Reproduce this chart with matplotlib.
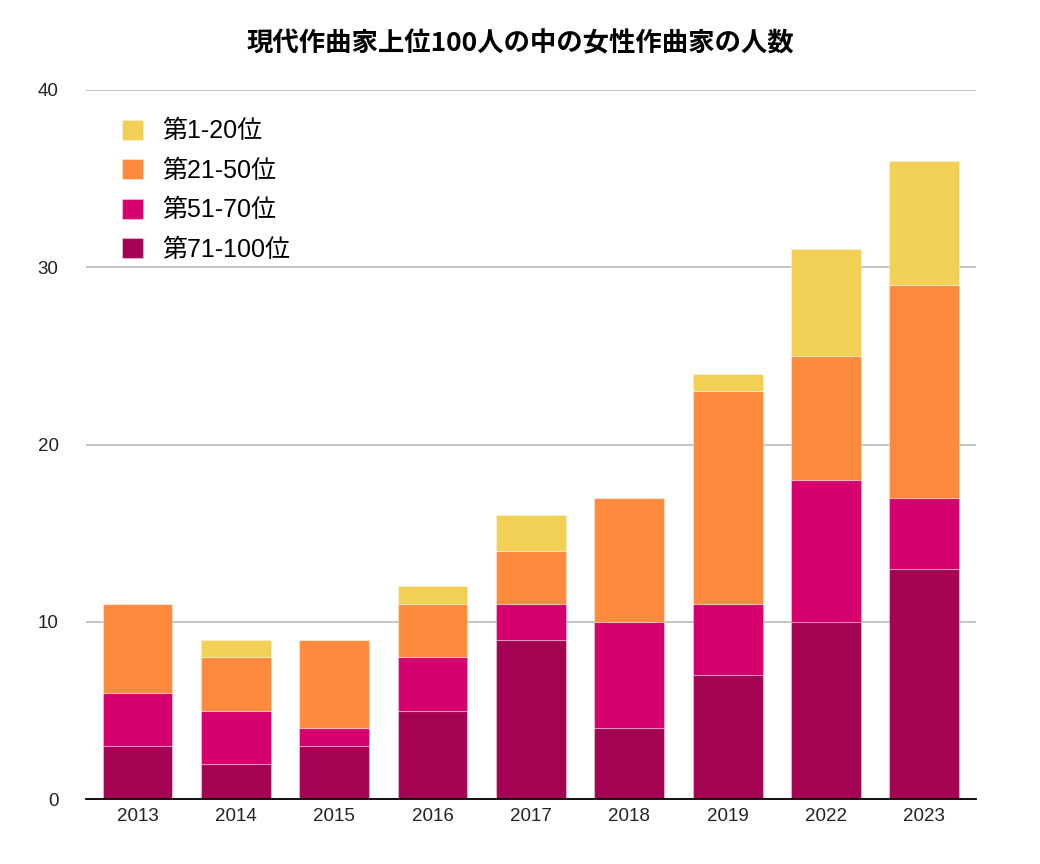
import numpy as np
import matplotlib
matplotlib.use('Agg')
import matplotlib.pyplot as plt

plt.rcParams['font.family'] = ['Liberation Sans', 'Noto Sans CJK JP', 'DejaVu Sans']

years = ['2013', '2014', '2015', '2016', '2017', '2018', '2019', '2022', '2023']
rank_71_100 = [3, 2, 3, 5, 9, 4, 7, 10, 13]
rank_51_70 = [3, 3, 1, 3, 2, 6, 4, 8, 4]
rank_21_50 = [5, 3, 5, 3, 3, 7, 12, 7, 12]
rank_1_20 = [0, 1, 0, 1, 2, 0, 1, 6, 7]

labels = ['第71-100位', '第51-70位', '第21-50位', '第1-20位']
colors = ['#A30352', '#D6006F', '#FE8A3D', '#F2CF55']
title = '現代作曲家上位100人の中の女性作曲家の人数'

fig = plt.figure(figsize=(10.4, 8.64), dpi=100)
ax = fig.add_axes([0.083, 0.075, 0.855, 0.821])

x = np.arange(len(years))
bottom = np.zeros(len(years))
handles = []
for vals, lab, col in zip([rank_71_100, rank_51_70, rank_21_50, rank_1_20], labels, colors):
    vals = np.array(vals, dtype=float)
    b = ax.bar(x, vals, width=0.71, bottom=bottom, color=col, label=lab,
               edgecolor=(1, 1, 1, 0.35), linewidth=0.8, zorder=3)
    handles.append(b)
    bottom += vals

ax.set_xlim(-0.52, len(years) - 0.48)
ax.set_ylim(0, 40)
ax.set_yticks([0, 10, 20, 30, 40])
ax.set_xticks(x)
ax.set_xticklabels(years)
ax.yaxis.grid(True, color='#BBBBBB', linewidth=1.2, zorder=0)
ax.tick_params(axis='both', length=0, labelsize=13.5, colors='#222222')
ax.tick_params(axis='y', pad=20)
ax.tick_params(axis='x', pad=6)
for s in ['top', 'right', 'left']:
    ax.spines[s].set_visible(False)
ax.spines['bottom'].set_color('black')
ax.spines['bottom'].set_linewidth(1.3)
ax.spines['bottom'].set_zorder(4)

fig.suptitle(title, y=0.965, fontsize=19, fontweight='bold',
             family=['Noto Sans CJK JP', 'DejaVu Sans'])

leg = ax.legend(handles[::-1], labels[::-1], loc='upper left',
                bbox_to_anchor=(0.026, 0.976), frameon=False, fontsize=18,
                handlelength=0.85, handleheight=0.85, labelspacing=0.62,
                handletextpad=0.75, borderpad=0)

fig.savefig('out.png', dpi=100)
